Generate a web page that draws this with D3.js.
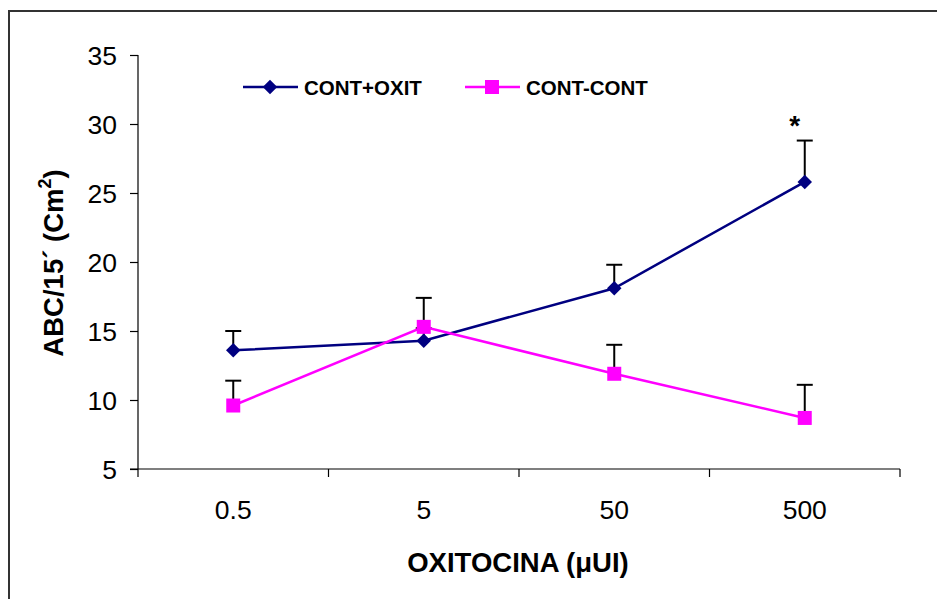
<!DOCTYPE html>
<html><head><meta charset="utf-8">
<script src="https://cdn.jsdelivr.net/npm/d3@7"></script>
<style>body{margin:0;background:#fff}svg{display:block}text{font-family:"Liberation Sans",Arial,sans-serif}</style>
</head><body><svg id="c" width="937" height="599"></svg>
<script>
const categories = ["0.5","5","50","500"];
const oxitValues = [13.6, 14.3, 18.1, 25.8];
const oxitErrors = [1.4, 0.9, 1.7, 3.0];
const contValues = [9.6, 15.3, 11.9, 8.7];
const contErrors = [1.8, 2.1, 2.1, 2.4];
const yTicks = [5,10,15,20,25,30,35];
const seriesNames = ["CONT+OXIT","CONT-CONT"];
const colors = ["#000080","#FF00FF"];

const svg = d3.select("#c");
// outer frame
svg.append("rect").attr("x",9).attr("y",11).attr("width",960).attr("height",620)
  .attr("fill","none").attr("stroke","#333").attr("stroke-width",2);

const x = d3.scaleBand().domain(categories).range([138,900]);
const y = d3.scaleLinear().domain([5,35]).range([469,55]);

// y axis
const ya = svg.append("g").attr("transform","translate(138,0)")
  .call(d3.axisLeft(y).tickValues(yTicks).tickSize(8).tickPadding(13));
ya.select(".domain").attr("stroke","#000").attr("stroke-width",1.2).attr("d","M0,55V469");
ya.selectAll(".tick line").attr("stroke","#000").attr("stroke-width",1.2);
ya.selectAll(".tick text").attr("font-size",26.5).attr("fill","#000").attr("dy","0.36em");

// x axis
const xa = svg.append("g").attr("transform","translate(0,469)");
xa.append("line").attr("x1",130).attr("x2",900).attr("stroke","#000").attr("stroke-width",1.2);
const bounds = categories.map(c=>x(c)).concat([x.range()[1]]);
xa.selectAll("line.t").data(bounds).join("line").attr("class","t")
  .attr("x1",d=>d).attr("x2",d=>d).attr("y1",0).attr("y2",8).attr("stroke","#000").attr("stroke-width",1.2);
xa.selectAll("text").data(categories).join("text")
  .attr("x",d=>x(d)+x.bandwidth()/2).attr("y",50).attr("text-anchor","middle")
  .attr("font-size",26.5).attr("fill","#000").text(d=>d);

// axis titles
svg.append("text").attr("x",518).attr("y",572).attr("text-anchor","middle")
  .attr("font-size",27.5).attr("font-weight","bold").text("OXITOCINA (\u03BCUI)");
const yt = svg.append("text").attr("transform","translate(63,263) rotate(-90)")
  .attr("text-anchor","middle").attr("font-size",27.5).attr("font-weight","bold");
yt.append("tspan").text("ABC/15\u00B4 (Cm");
yt.append("tspan").attr("font-size",18).attr("dy",-12).text("2");
yt.append("tspan").attr("dy",12).text(")");

const cx = c => x(c)+x.bandwidth()/2;
const series = [
  {vals: oxitValues, errs: oxitErrors, color: colors[0], shape: d3.symbolSquare, size: 105, rot: 45},
  {vals: contValues, errs: contErrors, color: colors[1], shape: d3.symbolSquare, size: 196, rot: 0}
];

// error bars
series.forEach(s=>{
  const g = svg.append("g");
  categories.forEach((c,i)=>{
    const top = y(s.vals[i]+s.errs[i]);
    g.append("line").attr("x1",cx(c)).attr("x2",cx(c)).attr("y1",y(s.vals[i])).attr("y2",top)
      .attr("stroke","#000").attr("stroke-width",2);
    g.append("line").attr("x1",cx(c)-8).attr("x2",cx(c)+8).attr("y1",top).attr("y2",top)
      .attr("stroke","#000").attr("stroke-width",2);
  });
});

// lines and markers
series.forEach(s=>{
  const line = d3.line().x((d,i)=>cx(categories[i])).y(d=>y(d));
  svg.append("path").attr("d",line(s.vals)).attr("fill","none").attr("stroke",s.color).attr("stroke-width",2.5);
  svg.selectAll(null).data(s.vals).join("path")
    .attr("transform",(d,i)=>`translate(${cx(categories[i])},${y(d)}) rotate(${s.rot})`)
    .attr("d",d3.symbol().type(s.shape).size(s.size)).attr("fill",s.color);
});

// significance star
svg.append("text").attr("x",cx("500")-10).attr("y",y(oxitValues[3]+oxitErrors[3])-6)
  .attr("text-anchor","middle").attr("font-size",28).attr("font-weight","bold").text("*");

// legend
const legendX = [243, 465];
series.forEach((s,i)=>{
  const g = svg.append("g").attr("transform",`translate(${legendX[i]},87)`);
  g.append("line").attr("x1",0).attr("x2",55).attr("stroke",s.color).attr("stroke-width",2.5);
  g.append("path").attr("transform",`translate(27,0) rotate(${s.rot})`).attr("d",d3.symbol().type(s.shape).size(s.size)).attr("fill",s.color);
  g.append("text").attr("x",61).attr("y",8).attr("font-size",20.5).attr("font-weight","bold").text(seriesNames[i]);
});
</script></body></html>
